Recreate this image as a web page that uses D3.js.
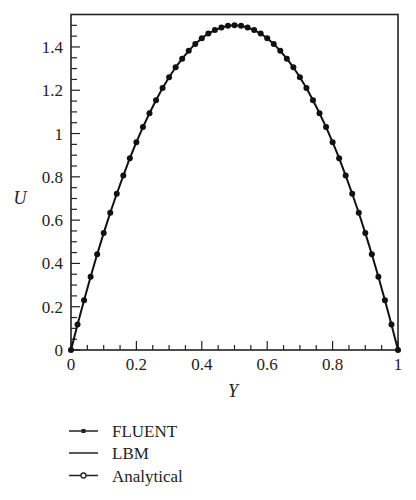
<!DOCTYPE html>
<html>
<head>
<meta charset="utf-8">
<script src="https://cdn.jsdelivr.net/npm/d3@7"></script>
<style>
  body { margin: 0; background: #fff; }
  svg { font-family: "Liberation Serif", "DejaVu Serif", serif; }
</style>
</head>
<body>
<script>
// velocity profile, Y step 0.02
const yPos = [0, 0.02, 0.04, 0.06, 0.08, 0.10, 0.12, 0.14, 0.16, 0.18, 0.20,
  0.22, 0.24, 0.26, 0.28, 0.30, 0.32, 0.34, 0.36, 0.38, 0.40,
  0.42, 0.44, 0.46, 0.48, 0.50, 0.52, 0.54, 0.56, 0.58, 0.60,
  0.62, 0.64, 0.66, 0.68, 0.70, 0.72, 0.74, 0.76, 0.78, 0.80,
  0.82, 0.84, 0.86, 0.88, 0.90, 0.92, 0.94, 0.96, 0.98, 1.00]
const uVel = [0, 0.118, 0.230, 0.338, 0.442, 0.540, 0.634, 0.722, 0.806, 0.886, 0.960,
  1.030, 1.094, 1.154, 1.210, 1.260, 1.306, 1.346, 1.382, 1.414, 1.440,
  1.462, 1.478, 1.490, 1.498, 1.500, 1.498, 1.490, 1.478, 1.462, 1.440,
  1.414, 1.382, 1.346, 1.306, 1.260, 1.210, 1.154, 1.094, 1.030, 0.960,
  0.886, 0.806, 0.722, 0.634, 0.540, 0.442, 0.338, 0.230, 0.118, 0]
const xTicks = [0, 0.2, 0.4, 0.6, 0.8, 1]
const yTicks = [0, 0.2, 0.4, 0.6, 0.8, 1, 1.2, 1.4]
const legendNames = ['FLUENT', 'LBM', 'Analytical']

const svg = d3.select('body').append('svg').attr('width', 416).attr('height', 500)

const plot = {left: 71, right: 398, top: 14.5, bottom: 350}

const x = d3.scaleLinear().domain([0, 1]).range([plot.left, plot.right])
const y = d3.scaleLinear().domain([0, 1.55]).range([plot.bottom, plot.top])

// frame
svg.append('rect')
  .attr('x', plot.left).attr('y', plot.top)
  .attr('width', plot.right - plot.left).attr('height', plot.bottom - plot.top)
  .attr('fill', 'none').attr('stroke', '#222').attr('stroke-width', 1.6)

// minor ticks (inward)
const xMinor = d3.range(0, 21).map(i => i * 0.05)
const yMinor = d3.range(0, 31).map(i => i * 0.05)
svg.append('g').selectAll('line').data(xMinor).join('line')
  .attr('x1', d => x(d)).attr('x2', d => x(d))
  .attr('y1', plot.bottom).attr('y2', (d, i) => plot.bottom - (i % 4 === 0 ? 9 : 5))
  .attr('stroke', '#222').attr('stroke-width', 1.2)
svg.append('g').selectAll('line').data(yMinor).join('line')
  .attr('y1', d => y(d)).attr('y2', d => y(d))
  .attr('x1', plot.left).attr('x2', (d, i) => plot.left + (i % 4 === 0 ? 9 : 6))
  .attr('stroke', '#222').attr('stroke-width', 1.2)

// tick labels
svg.append('g').selectAll('text').data(xTicks).join('text')
  .attr('x', d => x(d)).attr('y', 370)
  .attr('text-anchor', 'middle').attr('font-size', 17).attr('fill', '#222')
  .text(d => d)
svg.append('g').selectAll('text').data(yTicks).join('text')
  .attr('x', 63).attr('y', d => y(d) + 6)
  .attr('text-anchor', 'end').attr('font-size', 17).attr('fill', '#222')
  .text(d => d)

// axis titles
svg.append('text').attr('x', 233).attr('y', 397)
  .attr('text-anchor', 'middle').attr('font-size', 18).attr('font-style', 'italic')
  .attr('fill', '#222').text('Y')
svg.append('text').attr('x', 20).attr('y', 204)
  .attr('text-anchor', 'middle').attr('font-size', 18).attr('font-style', 'italic')
  .attr('fill', '#222').text('U')

// curve + markers
const pts = yPos.map((d, i) => [d, uVel[i]])
const line = d3.line().x(d => x(d[0])).y(d => y(d[1]))
svg.append('path').datum(pts)
  .attr('d', line).attr('fill', 'none').attr('stroke', '#111').attr('stroke-width', 2)
svg.append('g').selectAll('circle').data(pts).join('circle')
  .attr('cx', d => x(d[0])).attr('cy', d => y(d[1])).attr('r', 3)
  .attr('fill', '#111')

// legend
const legY = [431, 453, 475.5]
const leg = svg.append('g').selectAll('g').data(legendNames).join('g')
  .attr('transform', (d, i) => `translate(0,${legY[i]})`)
leg.append('line').attr('x1', 69).attr('x2', 98)
  .attr('stroke', '#222').attr('stroke-width', 1.5)
leg.filter(d => d === 'FLUENT').append('rect')
  .attr('x', 81.5).attr('y', -2).attr('width', 4).attr('height', 4).attr('fill', '#222')
leg.filter(d => d === 'Analytical').append('circle')
  .attr('cx', 83.5).attr('cy', 0).attr('r', 2.5)
  .attr('fill', '#fff').attr('stroke', '#222').attr('stroke-width', 1.3)
leg.append('text').attr('x', 112).attr('y', 6)
  .attr('font-size', 17).attr('fill', '#222').text(d => d)
</script>
</body>
</html>
